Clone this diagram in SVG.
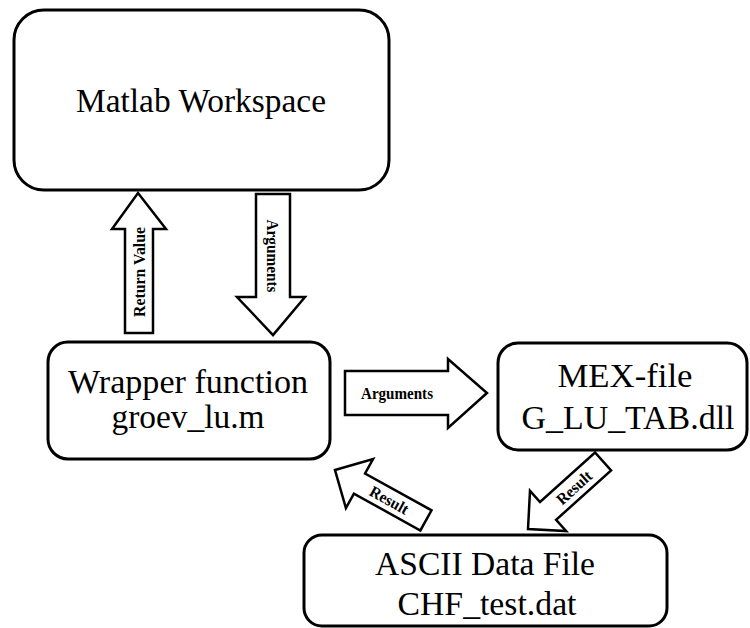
<svg xmlns="http://www.w3.org/2000/svg" width="750" height="628" viewBox="0 0 750 628">
<style>
.box{fill:#fff;stroke:#000;stroke-width:3}
.arr{fill:#fff;stroke:#000;stroke-width:2.5;stroke-linejoin:miter}
text{font-family:'Liberation Serif','Times New Roman','DejaVu Serif',serif;fill:#000;text-anchor:middle}
.t{font-size:34px}
.s{font-weight:bold;font-size:17px}
.r{font-weight:bold;font-size:16px}
</style>
<rect width="750" height="628" fill="#fff"/>
<g id="matlab">
<rect class="box" x="14" y="10" width="375" height="180" rx="30"/>
<text class="t" x="201" y="112" textLength="250" lengthAdjust="spacingAndGlyphs">Matlab Workspace</text>
</g>
<g id="wrapper">
<rect class="box" x="48" y="342" width="282" height="117" rx="20"/>
<text class="t" x="188" y="393" textLength="240" lengthAdjust="spacingAndGlyphs">Wrapper function</text>
<text class="t" x="188" y="428" textLength="153" lengthAdjust="spacingAndGlyphs">groev_lu.m</text>
</g>
<g id="mex">
<rect class="box" x="498" y="343" width="249" height="107" rx="20"/>
<text class="t" x="625" y="387" textLength="135" lengthAdjust="spacingAndGlyphs">MEX-file</text>
<text class="t" x="628" y="429" textLength="213" lengthAdjust="spacingAndGlyphs">G_LU_TAB.dll</text>
</g>
<g id="ascii">
<rect class="box" x="304" y="535" width="363" height="91" rx="18"/>
<text class="t" x="485" y="575" textLength="220" lengthAdjust="spacingAndGlyphs">ASCII Data File</text>
<text class="t" x="487" y="615" textLength="179" lengthAdjust="spacingAndGlyphs">CHF_test.dat</text>
</g>
<g id="connectors">
<g id="return-value">
<polygon class="arr" points="138,193 166,229 153,229 153,333 125,333 125,229 112,229"/>
<text class="s" transform="translate(145,272) rotate(-90)" textLength="90" lengthAdjust="spacingAndGlyphs">Return Value</text>
</g>
<g id="arguments-down">
<polygon class="arr" points="256,194 290,194 290,297 305,297 273,335 237,297 256,297"/>
<text class="s" transform="translate(267,256) rotate(90)" textLength="73" lengthAdjust="spacingAndGlyphs">Arguments</text>
</g>
<g id="arguments-right">
<polygon class="arr" points="345,371 448,371 448,359 487,393 448,428 448,415 345,415"/>
<text class="s" x="397" y="399" textLength="72" lengthAdjust="spacingAndGlyphs">Arguments</text>
</g>
<g id="result-left" transform="translate(335,470) rotate(29)">
<polygon class="arr" points="0,0 28,-28 28,-11.5 104,-11.5 104,11.5 28,11.5 28,28"/>
<text class="r" x="62" y="5.5" textLength="42" lengthAdjust="spacingAndGlyphs">Result</text>
</g>
<g id="result-right" transform="translate(528,529) rotate(-42)">
<polygon class="arr" points="0,0 27,-27 27,-12 101,-12 101,12 27,12 27,27"/>
<text class="r" x="62" y="5.5" textLength="42" lengthAdjust="spacingAndGlyphs">Result</text>
</g>
</g>
</svg>
